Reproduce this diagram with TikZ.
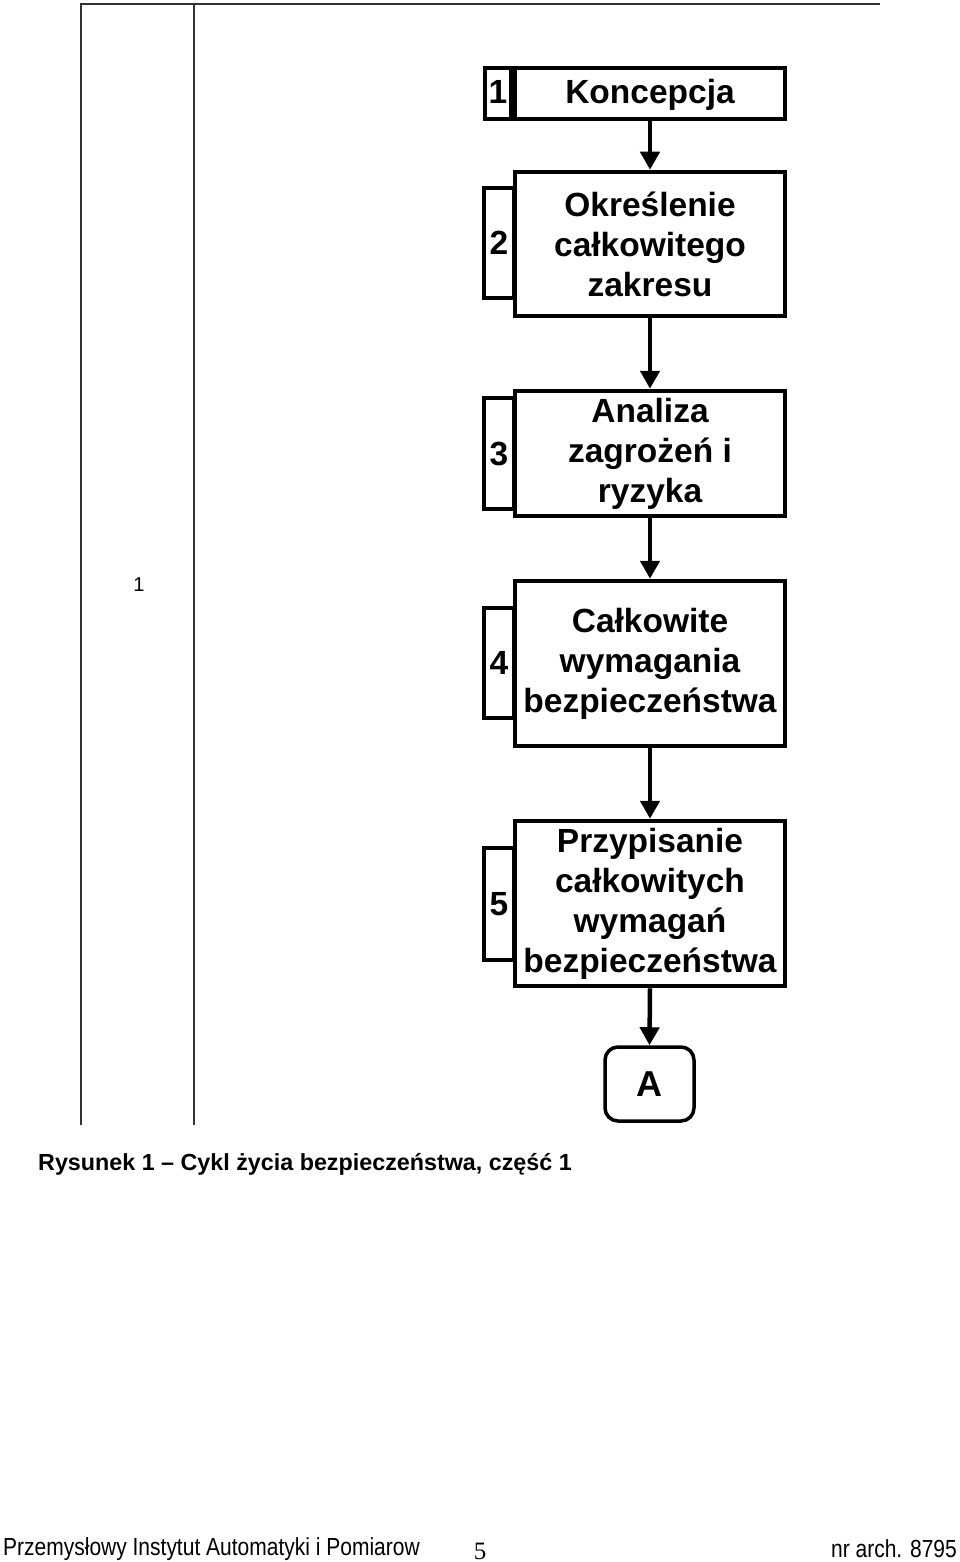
\documentclass[tikz,border=0pt]{standalone}
\usepackage{fontspec}
\setmainfont{Liberation Sans}
\newfontfamily\narrowfont[FakeStretch=0.85]{Liberation Sans}
\newfontfamily\seriffont{Liberation Serif}
\usetikzlibrary{arrows.meta}
\begin{document}
\begin{tikzpicture}[x=1pt,y=-1pt,
  mainbox/.style={draw, line width=4.5pt, fill=white, minimum width=270pt, align=center, inner sep=0pt,
    font=\bfseries\fontsize{33.5}{40}\selectfont},
  tabbox/.style={draw, line width=4.5pt, fill=white, minimum width=30pt, inner sep=0pt,
    font=\bfseries\fontsize{33.5}{40}\selectfont},
  arr/.style={line width=4.5pt, -{Triangle[length=18pt,width=19pt]}},
  thinline/.style={line width=2pt, draw=black!80},
  endbox/.style={draw, line width=3.5pt, rounded corners=13pt, minimum width=89pt, minimum height=74pt,
    inner sep=0pt, font=\bfseries\fontsize{36}{40}\selectfont},
  plain/.style={inner sep=0pt},
]
\useasboundingbox (0,0) rectangle (960,1562);

% frame lines
\coordinate (tl) at (80,4);
\coordinate (tr) at (880,4);
\coordinate (v1t) at (81,4);
\coordinate (v1b) at (81,1125);
\coordinate (v2t) at (194,4);
\coordinate (v2b) at (194,1125);
\draw[thinline] (tl) -- (tr);
\draw[thinline] (v1t) -- (v1b);
\draw[thinline] (v2t) -- (v2b);

\node[plain, font=\fontsize{20}{24}\selectfont] (lane) at (139,585) {1};

% box 1
\node[mainbox, minimum height=51pt, text height=28pt, text depth=7pt] (b1) at (650,93.5) {Koncepcja};
\node[tabbox, minimum height=51pt, minimum width=26pt, text height=28pt, text depth=7pt] (t1) at (498,93.5) {1};

% box 2
\node[mainbox, minimum height=144pt] (b2) at (650,244) {Określenie\\całkowitego\\zakresu};
\node[tabbox, minimum height=110pt] (t2) at (499,243) {2};

% box 3
\node[mainbox, minimum height=125pt] (b3) at (650,453.5) {Analiza\\zagrożeń i\\ryzyka};
\node[tabbox, minimum height=111pt] (t3) at (499,453.5) {3};

% box 4
\node[mainbox, minimum height=165pt] (b4) at (650,663.5) {Całkowite\\wymagania\\bezpieczeństwa};
\node[tabbox, minimum height=110pt] (t4) at (499,663) {4};

% box 5
\node[mainbox, minimum height=165pt] (b5) at (650,903.5) {Przypisanie\\całkowitych\\wymagań\\bezpieczeństwa};
\node[tabbox, minimum height=112pt] (t5) at (499,904) {5};

% connector A
\node[endbox] (A) at (649.5,1084) {A};

\draw[arr] (b1.south) -- (b2.north);
\draw[arr] (b2.south) -- (b3.north);
\draw[arr] (b3.south) -- (b4.north);
\draw[arr] (b4.south) -- (b5.north);
\draw[arr] (b5.south) -- (A.north);

% caption
\node[plain, anchor=west, font=\bfseries\fontsize{23.3}{28}\selectfont] (cap) at (38,1164)
  {Rysunek 1 – Cykl życia bezpieczeństwa, część 1};

% footer
\node[plain, anchor=west, font=\narrowfont\fontsize{24.7}{28}\selectfont] (f1) at (3,1549)
  {Przemysłowy Instytut Automatyki i Pomiarow};
\node[plain, font=\seriffont\fontsize{25}{28}\selectfont] (f2) at (480,1551) {5};
\node[plain, anchor=east, font=\narrowfont\fontsize{24.7}{28}\selectfont] (f3) at (957,1549) {nr arch. 8795};
\end{tikzpicture}
\end{document}
